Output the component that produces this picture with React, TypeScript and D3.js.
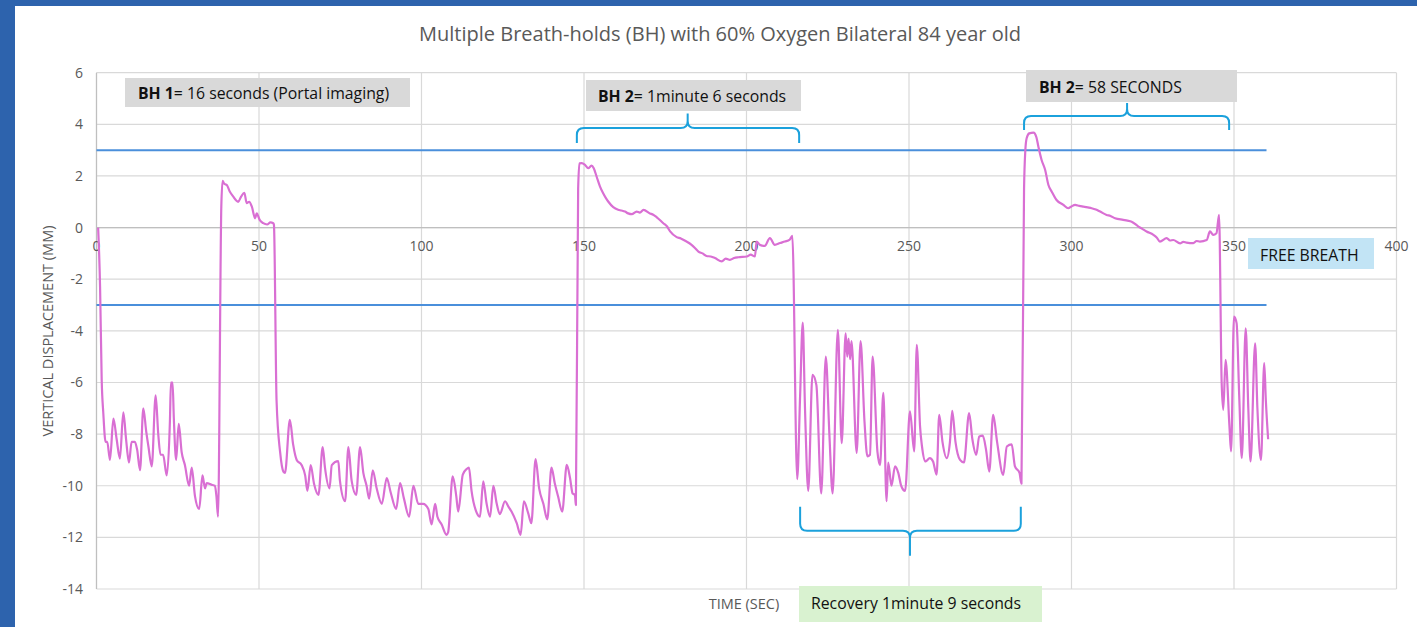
import React from "react";
import * as d3 from "d3";

// ---- data (time in s, vertical displacement in mm) ----
const timeSec: number[] = [
  // free breathing 1
  0.5, 1.1, 1.6, 2.1, 2.8, 3.3, 4.15, 5.2, 6.2, 7.2, 8.25, 9.1, 10.0, 10.8, 11.8, 12.5, 13.4, 14.4, 15.3, 16.0,
  17.0, 18.2, 19.0, 19.7, 20.5, 21.6, 22.6, 22.9, 23.4, 23.8, 24.5, 25.3, 26.2, 27.2, 28.5, 29.3, 30.3, 31.6,
  32.6, 33.4, 33.9, 35.4, 36.4, 36.9, 37.4,
  // BH1
  38.4, 38.8, 39.3, 40.1, 41.0, 42.1, 43.0, 43.6, 44.5, 45.5, 46.2, 47.0, 47.8, 48.8, 49.3, 50.2, 51.3, 52.5,
  53.5, 54.4, 54.6,
  // free breathing 2
  55.4, 56.5, 57.5, 58.0, 59.5, 60.5, 61.6, 63.1, 64.2, 64.9, 65.9, 66.9, 68.3, 69.6, 70.3, 71.7, 72.4, 74.4,
  74.9, 76.5, 77.5, 78.5, 79.9, 81.1, 82.1, 83.1, 83.9, 85.0, 86.2, 87.8, 89.3, 90.5, 92.2, 93.4, 94.6, 96.2,
  97.5, 99.0, 100.5, 102.1, 103.1, 104.2, 104.9, 106.2, 107.7, 108.2, 109.6, 110.7, 111.3, 112.7, 113.9, 114.6,
  115.4, 117.0, 118.0, 119.0, 120.0, 121.1, 122.1, 123.1, 124.1, 125.7, 126.7, 127.7, 129.3, 130.5, 131.5,
  132.8, 133.8, 135.1, 136.2, 137.5, 138.7, 140.0, 141.0, 142.0, 143.3, 144.7, 145.7, 146.5, 147.2, 147.5,
  // BH2
  148.2, 148.6, 149.3, 150.3, 151.3, 152.3, 153.0, 153.9, 154.9, 155.9, 156.7, 157.5, 159.0, 160.5, 161.5, 162.6,
  163.6, 164.7, 166.2, 167.2, 168.3, 170.3, 171.3, 172.4, 174.4, 175.5, 176.5, 178.5, 179.8, 181.1, 183.1, 184.2, 185.2,
  186.5, 187.7, 189.0, 190.3, 192.4, 193.6, 194.9, 196.2, 197.5, 200.1, 201.3, 202.6, 203.1, 204.1, 205.6, 207.2,
  208.7, 210.3, 211.8, 213.3, 214.1,
  // recovery
  215.6, 216.5, 217.3, 218.0, 219.0, 220.3, 221.5, 223.0, 224.4, 225.5, 226.5, 228.1, 229.3, 230.5, 231.0,
  231.4, 231.9, 232.3, 233.9, 235.1, 236.3, 237.2, 238.0, 238.8, 240.3, 241.1, 242.1, 243.1, 243.6, 244.6,
  245.7, 246.7, 247.6, 248.8, 250.3, 251.6, 252.4, 253.4, 254.0, 255.1, 256.4, 257.4, 258.5, 259.3, 260.3,
  261.6, 262.6, 263.3, 264.3, 265.7, 266.9, 268.5, 269.5, 270.7, 271.6, 272.7, 273.7, 274.7, 275.9, 277.1,
  279.0, 280.1, 281.6, 282.6, 284.0, 284.6,
  // BH3
  285.4, 285.8, 286.2, 287.0, 288.3, 289.2, 289.8, 290.8, 291.9, 292.9, 293.9, 295.4, 297.5, 299.0, 300.0, 301.1,
  302.4, 303.7, 305.0, 306.2, 307.5, 308.8, 310.8, 312.0, 313.4, 315.9, 317.2, 318.5, 320.6, 321.8, 323.1, 325.2,
  326.2, 327.2, 329.3, 330.3, 331.3, 333.4, 334.4, 335.4, 337.5, 338.5, 339.5, 341.6, 342.6, 343.6, 344.6, 345.4,
  // free breathing 3
  346.2, 346.7, 347.4, 348.6, 349.1, 350.0, 350.8, 351.6, 352.4, 353.6, 354.4, 355.1, 356.5, 357.2, 358.3,
  359.3, 359.8, 360.5,
];

const dispMm: number[] = [
  0, -2.3, -5.9, -7.2, -8.3, -8.3, -9.0, -7.4, -8.2, -8.95, -7.16, -8.2, -9.1, -8.3, -8.3, -8.6, -9.4, -7.0, -7.9, -8.5,
  -9.25, -6.5, -8.0, -8.8, -8.8, -9.6, -7.45, -6.0, -6.0, -7.4, -9.0, -7.6, -8.7, -9.2, -10.0, -9.3, -10.4, -10.9,
  -9.6, -10.1, -9.9, -9.96, -10.0, -10.4, -11.2,
  0.8, 1.81, 1.7, 1.65, 1.4, 1.2, 1.05, 1.0, 1.2, 1.35, 0.95, 1.0, 0.81, 0.36, 0.55, 0.3, 0.17, 0.12,
  0.2, 0.17, 0.1,
  -6.7, -8.7, -9.45, -9.5, -7.45, -8.4, -9.0, -9.2, -9.6, -10.2, -9.2, -9.9, -10.35, -8.5, -9.3, -10.1, -9.2, -9.05,
  -9.8, -10.6, -8.5, -9.8, -10.35, -8.5, -9.5, -10.0, -10.5, -9.4, -10.1, -10.7, -9.7, -10.25, -10.9, -9.9, -10.5, -11.2,
  -10.0, -10.7, -10.7, -10.9, -11.5, -10.7, -11.2, -11.5, -11.9, -11.8, -9.64, -10.4, -11.0, -9.57, -9.35, -9.3,
  -10.2, -11.05, -11.2, -9.83, -10.67, -11.2, -10.0, -10.67, -11.1, -10.6, -10.8, -11.0, -11.45, -11.9, -10.6,
  -11.05, -11.45, -8.97, -10.1, -10.7, -11.3, -9.3, -9.9, -10.4, -11.0, -9.19, -9.7, -10.3, -10.35, -10.75,
  1.5, 2.49, 2.5, 2.43, 2.3, 2.4, 2.3, 1.97, 1.6, 1.33, 1.15, 1.0, 0.79, 0.69, 0.66, 0.62,
  0.55, 0.52, 0.62, 0.58, 0.69, 0.55, 0.5, 0.4, 0.17, 0.05, -0.15, -0.37, -0.42, -0.51, -0.67, -0.8, -0.93,
  -1.0, -1.1, -1.12, -1.18, -1.31, -1.2, -1.25, -1.18, -1.15, -1.12, -1.05, -1.12, -0.54, -0.67, -0.71, -0.41,
  -0.67, -0.6, -0.54, -0.47, -0.32,
  -9.74, -6.5, -3.68, -7.0, -10.2, -5.7, -6.1, -10.3, -5.0, -8.0, -10.3, -3.96, -8.35, -4.1, -5.0,
  -4.3, -5.1, -4.4, -8.73, -4.4, -7.5, -8.86, -8.8, -5.0, -8.7, -9.2, -6.4, -10.6, -9.1, -10.0,
  -9.25, -9.5, -10.0, -10.2, -7.12, -8.67, -4.54, -7.7, -8.48, -9.06, -8.93, -9.06, -9.57, -7.25, -8.3,
  -8.93, -8.3, -7.1, -8.3, -9.0, -9.1, -7.19, -8.2, -8.8, -8.09, -8.06, -8.6, -9.45, -7.25, -8.3,
  -9.58, -8.48, -8.4, -9.25, -9.5, -9.92,
  1.5, 3.0, 3.46, 3.65, 3.68, 3.5, 3.14, 2.62, 2.23, 1.65, 1.4, 1.07, 0.88, 0.75, 0.82, 0.88,
  0.84, 0.81, 0.78, 0.75, 0.7, 0.62, 0.49, 0.45, 0.36, 0.3, 0.27, 0.23, 0.04, -0.05, -0.15, -0.28,
  -0.38, -0.54, -0.41, -0.5, -0.48, -0.61, -0.55, -0.58, -0.6, -0.52, -0.54, -0.48, -0.15, -0.28, -0.22, 0.49,
  -6.0, -7.06, -5.12, -7.7, -8.67, -3.45, -3.7, -6.5, -8.93, -3.9, -7.0, -9.06, -4.48, -7.0, -9.0,
  -5.25, -6.7, -8.2,
];

const xTicks: number[] = [0, 50, 100, 150, 200, 250, 300, 350, 400];
const yTicks: number[] = [-14, -12, -10, -8, -6, -4, -2, 0, 2, 4, 6];
const thresholds: number[] = [3, -3];
const thresholdEnd = 360;

const title = "Multiple Breath-holds (BH) with 60% Oxygen Bilateral 84 year old";
const xTitle = "TIME (SEC)";
const yTitle = "VERTICAL DISPLACEMENT (MM)";

// brace annotations: [xStart, xEnd, xMid, yEnd, yBar, yTip] in data units
const braces: number[][] = [
  [147.8, 216.2, 181.9, 3.28, 3.86, 4.42],
  [285.4, 348.5, 317.1, 3.78, 4.32, 4.83],
  [216.5, 284.4, 250.3, -10.81, -11.74, -12.71],
];

export default function App() {
  const W = 1417, H = 627;
  const x = d3.scaleLinear().domain([0, 400]).range([96.5, 1396.5]);
  const y = d3.scaleLinear().domain([-14, 6]).range([589, 72.7]);
  const pts: [number, number][] = timeSec.map((t, i) => [t, dispMm[i]]);
  const line = d3
    .line<[number, number]>()
    .x((d) => x(d[0]))
    .y((d) => y(d[1]))
    .curve(d3.curveMonotoneX);
  const gray = "#595959";
  const font = "'Open Sans', 'Liberation Sans', sans-serif";

  const bracePath = (b: number[]) => {
    const [x1d, x2d, xmd, yEd, yBd, yTd] = b;
    const x1 = x(x1d), x2 = x(x2d), xm = x(xmd), ye = y(yEd), yb = y(yBd), yt = y(yTd);
    const dir = Math.sign(yt - yb);
    const r = 7;
    const p = d3.path();
    p.moveTo(x1, ye);
    p.lineTo(x1, yb - dir * r);
    p.quadraticCurveTo(x1, yb, x1 + r, yb);
    p.lineTo(xm - r, yb);
    p.quadraticCurveTo(xm, yb, xm, yb + dir * r);
    p.lineTo(xm, yt);
    p.moveTo(xm, yb + dir * r);
    p.quadraticCurveTo(xm, yb, xm + r, yb);
    p.lineTo(x2 - r, yb);
    p.quadraticCurveTo(x2, yb, x2, yb - dir * r);
    p.lineTo(x2, ye);
    return p.toString();
  };

  return (
    <svg width={W} height={H} style={{ position: "fixed", left: 0, top: 0, display: "block" }}>
      <rect x={0} y={0} width={W} height={H} fill="#2D63AD" />
      <rect x={15} y={6} width={W - 15} height={H - 6} fill="#ffffff" />
      <text x={720} y={41} textAnchor="middle" fontFamily={font} fontSize={20} fill={gray}>{title}</text>

      {/* grid */}
      {yTicks.map((v) => (
        <line key={"gy" + v} x1={x(0)} x2={x(400)} y1={y(v)} y2={y(v)} stroke="#D9D9D9" strokeWidth={1.2} />
      ))}
      {xTicks.map((v) => (
        <line key={"gx" + v} x1={x(v)} x2={x(v)} y1={y(6)} y2={y(-14)} stroke="#D9D9D9" strokeWidth={1.2} />
      ))}
      <line x1={x(0)} x2={x(0)} y1={y(6)} y2={y(-14)} stroke="#BFBFBF" strokeWidth={1.2} />
      <line x1={x(0)} x2={x(400)} y1={y(0)} y2={y(0)} stroke="#BFBFBF" strokeWidth={1.2} />

      {/* tick labels */}
      {yTicks.map((v) => (
        <text key={"ty" + v} x={83} y={y(v) + 5} textAnchor="end" fontFamily={font} fontSize={14} fill={gray}>{v}</text>
      ))}
      {xTicks.map((v) => (
        <text key={"tx" + v} x={x(v)} y={y(0) + 23} textAnchor="middle" fontFamily={font} fontSize={14} fill={gray}>{v}</text>
      ))}

      <text transform={`translate(53,331) rotate(-90)`} textAnchor="middle" fontFamily={font} fontSize={14.5} fill={gray}>{yTitle}</text>
      <text x={744} y={609} textAnchor="middle" fontFamily={font} fontSize={14.5} fill={gray}>{xTitle}</text>

      {/* thresholds */}
      {thresholds.map((v) => (
        <line key={"th" + v} x1={x(0)} x2={x(thresholdEnd)} y1={y(v)} y2={y(v)} stroke="#4A8FDB" strokeWidth={2} />
      ))}

      {/* trace */}
      <path d={line(pts) || ""} fill="none" stroke="#D96FD3" strokeWidth={2.2} strokeLinejoin="round" />

      {/* braces */}
      {braces.map((b, i) => (
        <path key={"br" + i} d={bracePath(b)} fill="none" stroke="#1BA1DC" strokeWidth={2} />
      ))}

      {/* annotation boxes */}
      <rect x={125} y={78} width={285} height={29} fill="#D9D9D9" />
      <text x={138} y={99} fontFamily={font} fontSize={15.8} fill="#111">
        <tspan fontWeight="bold">BH 1</tspan>= 16 seconds (Portal imaging)
      </text>
      <rect x={586} y={80} width={215} height={31} fill="#D9D9D9" />
      <text x={598} y={102} fontFamily={font} fontSize={15.8} fill="#111">
        <tspan fontWeight="bold">BH 2</tspan>= 1minute 6 seconds
      </text>
      <rect x={1026} y={70} width={211} height={32} fill="#D9D9D9" />
      <text x={1039} y={93} fontFamily={font} fontSize={15.8} fill="#111">
        <tspan fontWeight="bold">BH 2</tspan>= 58 SECONDS
      </text>
      <rect x={1248} y={238} width={126} height={31} fill="#C2E4F5" />
      <text x={1260} y={261} fontFamily={font} fontSize={15.8} fill="#111">FREE BREATH</text>
      <rect x={799} y={586} width={243} height={36} fill="#D9F2D0" />
      <text x={811} y={609} fontFamily={font} fontSize={15.8} fill="#111">Recovery 1minute 9 seconds</text>
    </svg>
  );
}
